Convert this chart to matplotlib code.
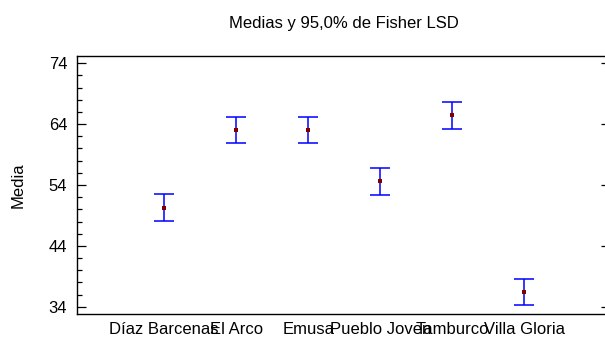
import matplotlib
matplotlib.use("Agg")
import matplotlib.pyplot as plt
from matplotlib.ticker import MultipleLocator

categories = ["Díaz Barcenas", "El Arco", "Emusa", "Pueblo Joven", "Tamburco", "Villa Gloria"]
means = [50.3, 63.0, 63.0, 54.6, 65.45, 36.4]
half_lsd = [2.17, 2.17, 2.17, 2.17, 2.17, 2.17]
yticks = [34, 44, 54, 64, 74]

plt.rcParams['font.family'] = ['Liberation Sans', 'DejaVu Sans']
FS = 12

fig = plt.figure(figsize=(6.05, 3.38), dpi=100)
ax = fig.add_axes([77/605, 24/338, 533/605, 258/338])

x = list(range(1, len(categories) + 1))
ax.errorbar(x, means, yerr=half_lsd, fmt='none', ecolor='#0000ff',
            elinewidth=1.1, capsize=7.5, capthick=1.1, zorder=2)
ax.plot(x, means, linestyle='none', marker='s', markersize=2.6,
        color='#800000', markeredgewidth=0, zorder=5)

ax.set_xlim(-0.21, 7.19)
ax.set_ylim(32.8, 75.2)
ax.set_yticks(yticks)
ax.set_yticklabels([str(t) for t in yticks], fontsize=FS)
ax.yaxis.set_minor_locator(MultipleLocator(2))
ax.tick_params(axis='y', which='major', direction='in', length=6.5, width=0.9,
               left=True, right=True, pad=7)
ax.tick_params(axis='y', which='minor', direction='in', length=3.6, width=0.9,
               left=True, right=True)
ax.set_xticks(x)
ax.set_xticklabels(categories, fontsize=FS)
ax.tick_params(axis='x', length=0, pad=6)

for s in ax.spines.values():
    s.set_linewidth(1.0)
    s.set_color('black')

ax.set_ylabel("Media", fontsize=FS, labelpad=17)
ax.set_title("Medias y 95,0% de Fisher LSD", fontsize=FS, pad=20)

fig.savefig("out.png", dpi=100)
